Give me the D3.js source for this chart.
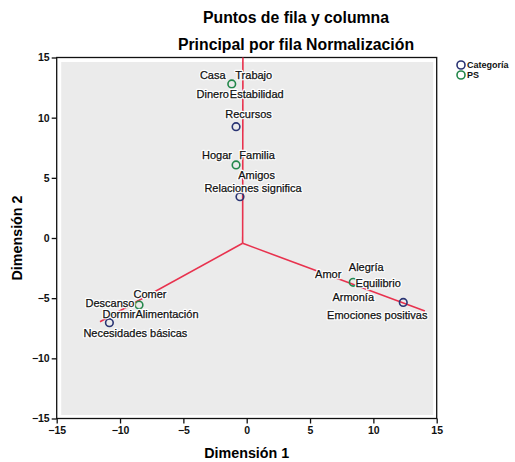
<!DOCTYPE html>
<html>
<head>
<meta charset="utf-8">
<script src="https://cdn.jsdelivr.net/npm/d3@7"></script>
<style>
body { margin: 0; background: #fff; }
text { font-family: "Liberation Sans", Arial, sans-serif; }
</style>
</head>
<body>
<svg id="chart" width="515" height="462"></svg>
<script>
// point coordinates (dimension 1, dimension 2) and group
var pointNames = ["PS1", "Recursos", "PS2", "Relaciones", "PS3", "Emociones", "PS4", "Necesidades"];
var dim1 = [-1.18, -0.84, -0.84, -0.53, 8.41, 12.36, -8.5, -10.84];
var dim2 = [12.8, 9.25, 6.07, 3.43, -3.68, -5.35, -5.57, -7.04];
var groups = ["PS", "Categoría", "PS", "Categoría", "PS", "Categoría", "PS", "Categoría"];

// labels and which point they belong to
var labelText = ["Casa", "Trabajo", "Dinero", "Estabilidad", "Recursos", "Hogar", "Familia", "Amigos",
    "Relaciones significa", "Amor", "Alegría", "Equilibrio", "Armonía", "Emociones positivas",
    "Descanso", "Comer", "Dormir", "Alimentación", "Necesidades básicas"];
var labelPoint = [0, 0, 0, 0, 1, 2, 2, 2, 3, 4, 4, 4, 4, 5, 6, 6, 6, 6, 7];

// red lines: centre and three ends
var lineCenter = [-0.32, -0.44];
var lineEnds = [[-0.3, 15], [-11.58, -6.96], [14.07, -6.07]];

var ticks = [-15, -10, -5, 0, 5, 10, 15];
var legendNames = ["Categoría", "PS"];

// label offsets in pixels (layout only)
var labelOffset = [[-19, -9], [22, -9], [-19, 10], [25, 10], [12.5, -13], [-19, -10], [21, -10], [20.5, 10],
    [13, -9], [-25, -8], [13, -15], [25, 1], [0, 15], [-26, 13],
    [-29, -2], [11, -11], [-20, 9], [28, 9], [26, 10]];

var colors = { "Categoría": "#2a3473", "PS": "#23874a" };

var svg = d3.select("#chart");
var x = d3.scaleLinear().domain([-15, 15]).range([56.7, 436.7]);
var y = d3.scaleLinear().domain([-15, 15]).range([418.5, 57.5]);

// title
svg.append("text").attr("x", 296).attr("y", 23).attr("text-anchor", "middle")
    .style("font-size", "15.8px").style("font-weight", "bold").text("Puntos de fila y columna");
svg.append("text").attr("x", 296).attr("y", 50).attr("text-anchor", "middle")
    .style("font-size", "15.8px").style("font-weight", "bold").text("Principal por fila Normalización");

// frame + plot background
svg.append("rect").attr("x", x(-15)).attr("y", y(15)).attr("width", x(15) - x(-15)).attr("height", y(-15) - y(15))
    .attr("fill", "#fff").attr("stroke", "#111").attr("stroke-width", 1.3);
svg.append("rect").attr("x", x(-15) + 4.5).attr("y", y(15) + 4.5)
    .attr("width", x(15) - x(-15) - 8).attr("height", y(-15) - y(15) - 8)
    .attr("fill", "#ebebeb");

// axes
var xAxis = svg.append("g").attr("transform", "translate(0," + y(-15) + ")")
    .call(d3.axisBottom(x).tickValues(ticks).tickSize(5).tickPadding(3));
var yAxis = svg.append("g").attr("transform", "translate(" + x(-15) + ",0)")
    .call(d3.axisLeft(y).tickValues(ticks).tickSize(5).tickPadding(2));
[xAxis, yAxis].forEach(function(a) {
    a.select(".domain").remove();
    a.selectAll("line").attr("stroke", "#111").attr("stroke-width", 1.3);
    a.selectAll("text").attr("fill", "#111").style("font-size", "10.5px").style("font-weight", "bold")
        .style("font-family", "'Liberation Sans', Arial, sans-serif");
});

svg.append("text").attr("x", x(0)).attr("y", 458).attr("text-anchor", "middle")
    .style("font-size", "14.3px").style("font-weight", "bold").text("Dimensión 1");
svg.append("text").attr("transform", "translate(22," + y(0) + ") rotate(-90)").attr("text-anchor", "middle")
    .style("font-size", "14.3px").style("font-weight", "bold").text("Dimensión 2");

// red lines
lineEnds.forEach(function(e) {
    svg.append("line").attr("x1", x(lineCenter[0])).attr("y1", y(lineCenter[1]))
        .attr("x2", x(e[0])).attr("y2", y(e[1]))
        .attr("stroke", "#e8324e").attr("stroke-width", 1.6);
});

// points
svg.selectAll("circle.pt").data(pointNames).enter().append("circle")
    .attr("class", "pt")
    .attr("cx", function(d, i) { return x(dim1[i]); })
    .attr("cy", function(d, i) { return y(dim2[i]); })
    .attr("r", 3.8)
    .attr("fill", "none")
    .attr("stroke", function(d, i) { return colors[groups[i]]; })
    .attr("stroke-width", 1.6);

// labels: white halo layer first, then the text on top
function drawLabels(cls, halo) {
    svg.selectAll("text." + cls).data(labelText).enter().append("text")
        .attr("class", cls)
        .attr("x", function(d, i) { return x(dim1[labelPoint[i]]) + labelOffset[i][0]; })
        .attr("y", function(d, i) { return y(dim2[labelPoint[i]]) + labelOffset[i][1]; })
        .attr("text-anchor", "middle")
        .attr("dominant-baseline", "central")
        .style("font-size", "11px")
        .attr("stroke", halo ? "#fff" : "#111").attr("stroke-width", halo ? 2.6 : 0.25)
        .attr("stroke-linejoin", "round")
        .attr("fill", halo ? "#fff" : "#111")
        .text(function(d) { return d; });
}
drawLabels("halo", true);
drawLabels("lbl", false);

// legend
var leg = svg.append("g");
legendNames.forEach(function(n, i) {
    leg.append("circle").attr("cx", 461).attr("cy", 65 + i * 10).attr("r", 4)
        .attr("fill", "none").attr("stroke", colors[n]).attr("stroke-width", 1.6);
    leg.append("text").attr("x", 467).attr("y", 65 + i * 10).attr("dominant-baseline", "central")
        .style("font-size", "9px").style("font-weight", "bold").attr("fill", "#111").text(n);
});
</script>
</body>
</html>
